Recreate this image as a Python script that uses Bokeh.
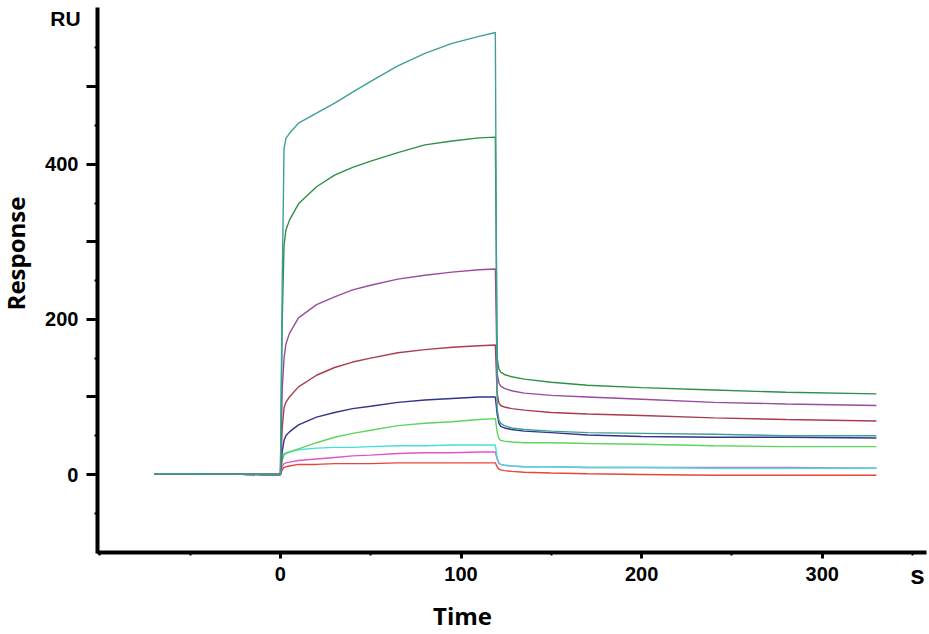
import math
from bokeh.plotting import figure
from bokeh.models import Range1d, FixedTicker, Label
from bokeh.embed import file_html
from bokeh.resources import INLINE

# ---------------- data ----------------
t_base = [-70, -50, -30, -10, 0]
v_base = [1, 1, 0.5, 0, 0]

t_assoc = [0, 1, 2, 3, 5, 10, 20, 30, 40, 50, 65, 80, 95, 110, 119]
t_dissoc = [120, 121, 122, 124, 128, 135, 150, 170, 200, 240, 280, 330]

teal_assoc = [0, 250, 420, 433, 440, 453, 466, 479, 493, 507, 527, 543, 556, 565, 570]
teal_dissoc = [85, 70, 66, 63, 60, 58, 56, 54, 53, 52, 50, 50]

green_assoc = [0, 200, 295, 315, 328, 349, 371, 386, 396, 404, 415, 425, 430, 434, 435]
green_dissoc = [150, 136, 132, 129, 126, 123, 119, 115, 112, 109, 106, 104]

purple_assoc = [0, 110, 150, 168, 182, 202, 219, 229, 238, 244, 252, 257, 261, 264, 265]
purple_dissoc = [130, 118, 114, 111, 108, 105, 102, 100, 97, 93, 91, 89]

maroon_assoc = [0, 60, 86, 93, 100, 113, 128, 138, 145, 150, 157, 161, 164, 166, 167]
maroon_dissoc = [105, 92, 89, 87, 85, 83, 80, 78, 76, 73, 71, 69]

navy_assoc = [0, 30, 44, 50, 55, 64, 74, 80, 85, 88, 93, 96, 98, 100, 100]
navy_dissoc = [78, 66, 62, 60, 58, 56, 54, 51, 49, 48, 48, 47]

lime_assoc = [0, 18, 25, 27, 29, 33, 41, 48, 53, 57, 63, 66, 68, 71, 72]
lime_dissoc = [55, 46, 44, 43, 42, 41, 41, 40, 39, 37, 36, 36]

cyan_assoc = [0, 20, 27, 28, 29, 32, 34, 35, 35, 36, 37, 37, 38, 38, 38]
cyan_dissoc = [22, 15, 13, 12, 11, 10, 10, 9, 9, 8, 8, 8]

magenta_assoc = [0, 10, 14, 15, 16, 18, 20, 22, 24, 25, 27, 28, 28, 29, 29]
magenta_dissoc = [20, 14, 13, 12, 11, 10, 10, 9, 9, 9, 9, 8]

red_assoc = [0, 6, 9, 10, 11, 13, 13, 14, 14, 14, 15, 15, 15, 15, 15]
red_dissoc = [10, 7, 6, 5, 4, 3, 2, 1, 0, -1, -1, -1]

y_ticks = [0, 100, 200, 300, 400, 500]
y_minor = [-50, 50, 150, 250, 350, 450, 550]
x_ticks = [0, 100, 200, 300]
x_minor = [-100, -50, 50, 150, 250, 350]

series = [
    ("red", red_assoc, red_dissoc, "#e8443a"),
    ("magenta", magenta_assoc, magenta_dissoc, "#e055cc"),
    ("cyan", cyan_assoc, cyan_dissoc, "#45dede"),
    ("lime", lime_assoc, lime_dissoc, "#5fd35f"),
    ("navy", navy_assoc, navy_dissoc, "#32338a"),
    ("maroon", maroon_assoc, maroon_dissoc, "#a83c50"),
    ("purple", purple_assoc, purple_dissoc, "#9a4aa0"),
    ("green", green_assoc, green_dissoc, "#2f8f45"),
    ("teal", teal_assoc, teal_dissoc, "#3f9f98"),
]

# ---------------- figure ----------------
# frame covers the whole canvas; the axes are pinned at fixed data locations
p = figure(width=929, height=634, output_backend="svg", toolbar_location=None,
           x_range=Range1d(-155.0, 359.4), y_range=Range1d(-206.3, 611.2),
           min_border_left=0, min_border_right=0, min_border_top=0, min_border_bottom=0)
p.outline_line_color = None
p.xgrid.visible = False
p.ygrid.visible = False
p.background_fill_color = "white"
p.border_fill_color = "white"

for name, a, d, col in series:
    xs = t_base + t_assoc + t_dissoc
    ys = v_base + a + d
    p.line(xs, ys, line_color=col, line_width=1.4)

# axes
for ax in (p.xaxis[0], p.yaxis[0]):
    ax.axis_line_width = 4
    ax.axis_line_color = "black"
    ax.major_tick_line_width = 3
    ax.major_tick_line_color = "black"
    ax.major_tick_in = 0
    ax.minor_tick_in = 0
    ax.minor_tick_out = 3
    ax.minor_tick_line_width = 2
    ax.minor_tick_line_color = "black"
    ax.major_label_text_font = "Liberation Sans"
    ax.major_label_text_font_style = "bold"
    ax.major_label_text_font_size = "20px"
    ax.major_label_text_color = "black"

yax = p.yaxis[0]
yax.ticker = FixedTicker(ticks=y_ticks, minor_ticks=y_minor)
yax.major_label_overrides = {100: "", 300: "", 500: ""}
yax.major_tick_out = 11
yax.major_label_standoff = 8
yax.fixed_location = -101.3
yax.bounds = (-101.5, 602)

xax = p.xaxis[0]
xax.ticker = FixedTicker(ticks=x_ticks, minor_ticks=x_minor)
xax.major_tick_out = 6
xax.major_label_standoff = 8
xax.fixed_location = -100.6
xax.bounds = (-101.3, 358)

# text labels
p.add_layout(Label(x=-119, y=588, text="RU", text_align="center", text_baseline="middle",
                   text_font="Liberation Sans", text_font_style="bold",
                   text_font_size="21px", text_color="black"))
p.add_layout(Label(x=352.7, y=-130, text="s", text_align="center", text_baseline="middle",
                   text_font="Liberation Sans", text_font_style="bold",
                   text_font_size="26px", text_color="black"))
p.add_layout(Label(x=100.8, y=-182, text="Time", text_align="center", text_baseline="middle",
                   text_font="Open Sans", text_font_style="bold",
                   text_font_size="24px", text_color="black"))
p.add_layout(Label(x=-146.5, y=285, text="Response", text_align="center", text_baseline="middle",
                   angle=math.pi / 2,
                   text_font="Open Sans", text_font_style="bold",
                   text_font_size="24px", text_color="black"))

open("out.html", "w").write(file_html(p, INLINE))
